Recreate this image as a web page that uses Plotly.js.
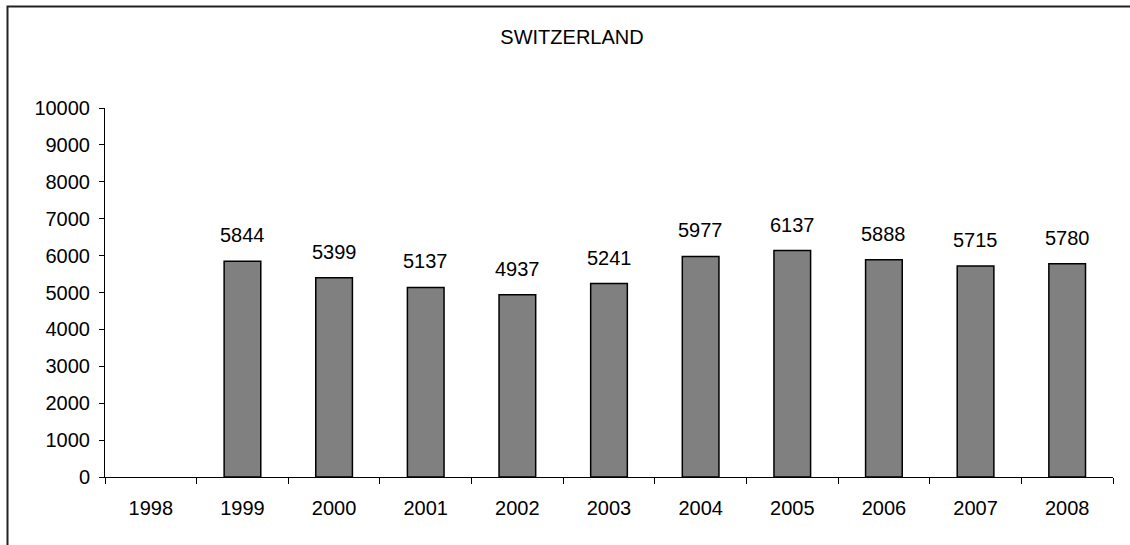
<!DOCTYPE html>
<html>
<head>
<meta charset="utf-8">
<script src="https://cdn.plot.ly/plotly-3.0.1.min.js"></script>
<style>
html,body{margin:0;padding:0;background:#fff;}
#chart{width:1130px;height:545px;}
</style>
</head>
<body>
<div id="chart"></div>
<script>
const chartTitle = "SWITZERLAND";
const years = ["1998","1999","2000","2001","2002","2003","2004","2005","2006","2007","2008"];
const values = [null,5844,5399,5137,4937,5241,5977,6137,5888,5715,5780];
const yTicks = [0,1000,2000,3000,4000,5000,6000,7000,8000,9000,10000];

const FONT = "Liberation Sans, Arial, sans-serif";

const trace = {
  type: "bar",
  x: years,
  y: values,
  marker: {color: "#808080", line: {color: "#000000", width: 1.5}},
  hoverinfo: "none"
};

const annotations = [];
years.forEach((yr, i) => {
  if (values[i] === null) return;
  annotations.push({
    x: i, y: values[i], xref: "x", yref: "y",
    text: String(values[i]), showarrow: false,
    yanchor: "middle", yshift: 26,
    font: {family: FONT, size: 20, color: "#000"}
  });
});

const layout = {
  width: 1130, height: 545,
  margin: {l: 105, r: 17, t: 108, b: 68},
  paper_bgcolor: "#fff", plot_bgcolor: "#fff",
  bargap: 0.6,
  showlegend: false,
  title: {text: chartTitle, x: 572/1130, xref: "container", xanchor: "center",
          y: 1 - 37/545, yref: "container", yanchor: "middle",
          font: {family: FONT, size: 20, color: "#000"}},
  xaxis: {
    type: "category",
    categoryorder: "array", categoryarray: years,
    range: [-0.5, years.length - 0.5],
    showline: true, linecolor: "#000", linewidth: 1,
    ticks: "outside", tickson: "boundaries", ticklen: 6, tickcolor: "#000", tickwidth: 1,
    tickangle: 0,
    ticklabelstandoff: 13,
    showgrid: false, zeroline: false,
    tickfont: {family: FONT, size: 20, color: "#000"},
    fixedrange: true
  },
  yaxis: {
    range: [0, 10000],
    tickmode: "array", tickvals: yTicks, ticktext: yTicks.map(String),
    showline: true, linecolor: "#000", linewidth: 1,
    ticks: "outside", ticklen: 5, tickcolor: "#000", tickwidth: 1,
    ticklabelstandoff: 5,
    showgrid: false, zeroline: false,
    tickfont: {family: FONT, size: 20, color: "#000"},
    fixedrange: true
  },
  annotations: annotations,
  shapes: [{
    type: "rect", xref: "paper", yref: "paper",
    x0: (7.5 - 105) / 1008, x1: 1.5,
    y0: (477 - 6.5) / 369, y1: -0.5,
    line: {color: "#222", width: 2}, fillcolor: "rgba(0,0,0,0)", layer: "below"
  }]
};

Plotly.newPlot("chart", [trace], layout, {displayModeBar: false, staticPlot: true});
</script>
</body>
</html>
